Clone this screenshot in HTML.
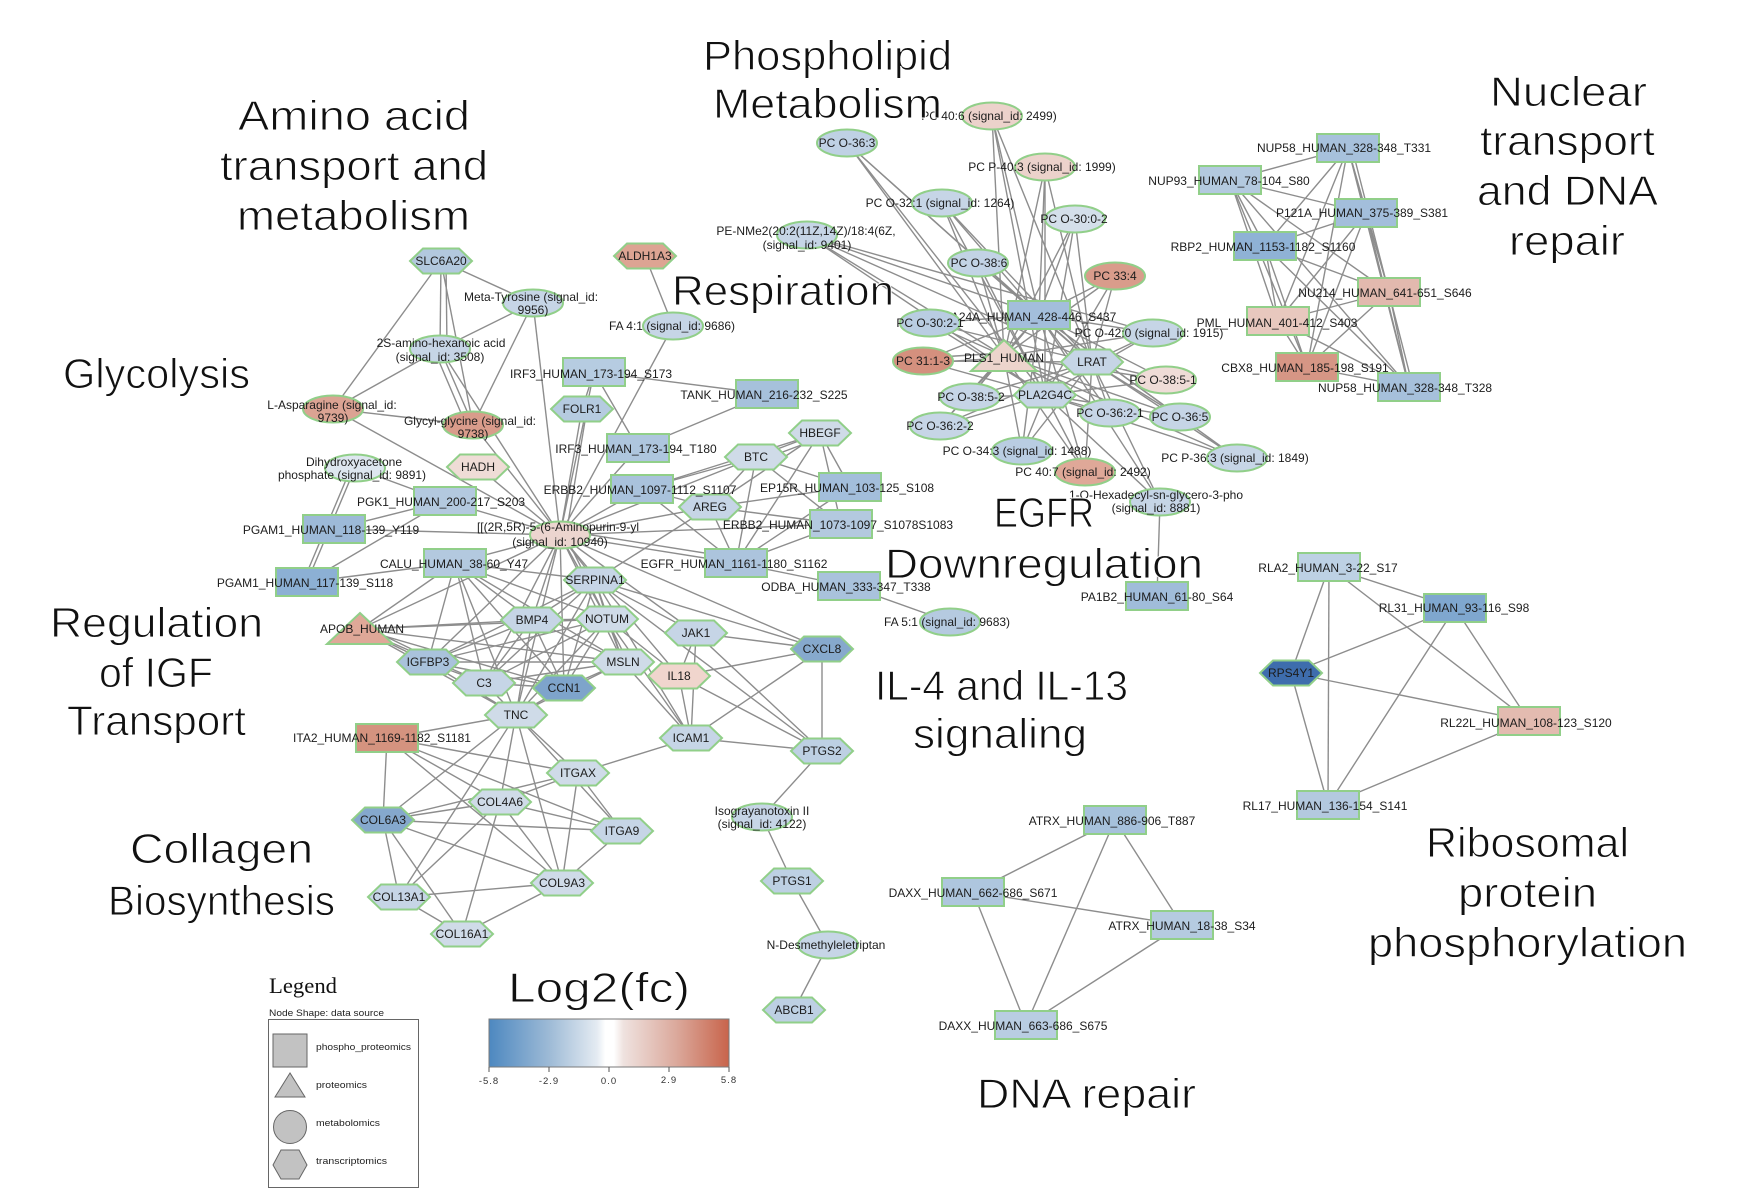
<!DOCTYPE html>
<html><head><meta charset="utf-8"><style>
html,body{margin:0;padding:0;background:#fff;}
svg{display:block;}
</style></head><body>
<svg xmlns="http://www.w3.org/2000/svg" xmlns:xlink="http://www.w3.org/1999/xlink" width="1750" height="1204" viewBox="0 0 1750 1204">
<defs>
<polygon id="hx" points="-31,0 -18,-12.5 18,-12.5 31,0 18,12.5 -18,12.5"/>
<rect id="rc" x="-31" y="-14" width="62" height="28"/>
<ellipse id="el" cx="0" cy="0" rx="30" ry="13.5"/>
<polygon id="tr" points="-33,15 0,-16 33,15"/>
<linearGradient id="cb" x1="0" y1="0" x2="1" y2="0">
<stop offset="0" stop-color="#4d88c0"/><stop offset="0.25" stop-color="#9dbad6"/><stop offset="0.45" stop-color="#e4ebf2"/><stop offset="0.485" stop-color="#ffffff"/><stop offset="0.52" stop-color="#ffffff"/><stop offset="0.56" stop-color="#efe2df"/><stop offset="0.78" stop-color="#dba99c"/><stop offset="1" stop-color="#c8644b"/>
</linearGradient>
</defs>
<rect width="1750" height="1204" fill="#fff"/>

<!-- EDGES -->
<g stroke="#8d8d8d" stroke-width="1.4" fill="none">
<line x1="441" y1="261" x2="533" y2="303"/><line x1="441" y1="261" x2="440" y2="349"/><line x1="446" y1="261" x2="447" y2="349"/><line x1="441" y1="261" x2="333" y2="409"/><line x1="441" y1="261" x2="473" y2="425"/>
<line x1="533" y1="303" x2="440" y2="349"/><line x1="533" y1="303" x2="473" y2="425"/><line x1="533" y1="303" x2="560" y2="535"/>
<line x1="440" y1="349" x2="333" y2="409"/><line x1="440" y1="349" x2="473" y2="425"/><line x1="435" y1="352" x2="467" y2="427"/><line x1="440" y1="349" x2="560" y2="535"/>
<line x1="333" y1="409" x2="473" y2="425"/><line x1="333" y1="409" x2="560" y2="535"/><line x1="473" y1="425" x2="560" y2="535"/>
<line x1="645" y1="256" x2="673" y2="326"/><line x1="673" y1="326" x2="560" y2="535"/>
<line x1="355" y1="468" x2="445" y2="501"/><line x1="355" y1="468" x2="307" y2="582"/><line x1="351" y1="468" x2="303" y2="582"/>
<line x1="445" y1="501" x2="334" y2="529"/><line x1="445" y1="501" x2="307" y2="582"/><line x1="334" y1="529" x2="560" y2="535"/><line x1="445" y1="501" x2="560" y2="535"/><line x1="307" y1="582" x2="455" y2="563"/>
<line x1="478" y1="467" x2="560" y2="535"/>
<line x1="594" y1="372" x2="767" y2="394"/><line x1="594" y1="372" x2="582" y2="409"/><line x1="594" y1="372" x2="638" y2="448"/><line x1="594" y1="372" x2="560" y2="535"/><line x1="767" y1="394" x2="638" y2="448"/>
<line x1="582" y1="409" x2="560" y2="535"/><line x1="587" y1="409" x2="566" y2="535"/><line x1="638" y1="448" x2="560" y2="535"/><line x1="642" y1="489" x2="560" y2="535"/><line x1="756" y1="457" x2="560" y2="535"/><line x1="710" y1="507" x2="560" y2="535"/><line x1="736" y1="563" x2="560" y2="535"/><line x1="736" y1="558" x2="560" y2="530"/><line x1="841" y1="524" x2="560" y2="535"/>
<line x1="756" y1="457" x2="820" y2="433"/><line x1="756" y1="462" x2="820" y2="438"/><line x1="756" y1="457" x2="642" y2="489"/><line x1="756" y1="457" x2="710" y2="507"/><line x1="756" y1="457" x2="736" y2="563"/><line x1="756" y1="457" x2="850" y2="487"/><line x1="756" y1="457" x2="841" y2="524"/>
<line x1="820" y1="433" x2="850" y2="487"/><line x1="820" y1="433" x2="736" y2="563"/><line x1="820" y1="433" x2="841" y2="524"/><line x1="820" y1="433" x2="710" y2="507"/><line x1="820" y1="433" x2="642" y2="489"/>
<line x1="710" y1="507" x2="642" y2="489"/><line x1="710" y1="507" x2="736" y2="563"/><line x1="710" y1="507" x2="850" y2="487"/><line x1="710" y1="507" x2="841" y2="524"/>
<line x1="736" y1="563" x2="642" y2="489"/><line x1="736" y1="563" x2="850" y2="487"/><line x1="736" y1="563" x2="841" y2="524"/><line x1="736" y1="563" x2="849" y2="586"/><line x1="849" y1="586" x2="950" y2="622"/>
<line x1="595" y1="580" x2="560" y2="535"/><line x1="595" y1="580" x2="696" y2="633"/><line x1="595" y1="580" x2="822" y2="649"/><line x1="595" y1="580" x2="623" y2="662"/><line x1="595" y1="580" x2="532" y2="620"/><line x1="595" y1="580" x2="607" y2="619"/><line x1="595" y1="580" x2="564" y2="688"/><line x1="595" y1="580" x2="516" y2="715"/><line x1="595" y1="580" x2="484" y2="683"/><line x1="595" y1="580" x2="428" y2="662"/><line x1="595" y1="580" x2="710" y2="507"/><line x1="595" y1="580" x2="455" y2="563"/><line x1="595" y1="580" x2="691" y2="738"/><line x1="595" y1="580" x2="822" y2="751"/>
<line x1="560" y1="535" x2="532" y2="620"/><line x1="560" y1="535" x2="607" y2="619"/><line x1="560" y1="535" x2="623" y2="662"/><line x1="565" y1="535" x2="628" y2="662"/><line x1="560" y1="535" x2="484" y2="683"/><line x1="560" y1="535" x2="564" y2="688"/><line x1="560" y1="535" x2="516" y2="715"/><line x1="560" y1="535" x2="428" y2="662"/><line x1="560" y1="535" x2="360" y2="629"/><line x1="560" y1="535" x2="455" y2="563"/><line x1="560" y1="535" x2="696" y2="633"/><line x1="560" y1="535" x2="822" y2="649"/><line x1="560" y1="535" x2="679" y2="676"/>
<line x1="455" y1="563" x2="360" y2="629"/><line x1="455" y1="563" x2="428" y2="662"/><line x1="455" y1="563" x2="532" y2="620"/><line x1="455" y1="563" x2="484" y2="683"/><line x1="455" y1="563" x2="516" y2="715"/><line x1="455" y1="563" x2="564" y2="688"/><line x1="455" y1="563" x2="623" y2="662"/><line x1="455" y1="563" x2="607" y2="619"/>
<line x1="360" y1="629" x2="428" y2="662"/><line x1="364" y1="626" x2="432" y2="659"/><line x1="360" y1="629" x2="532" y2="620"/><line x1="360" y1="629" x2="484" y2="683"/><line x1="360" y1="629" x2="516" y2="715"/><line x1="360" y1="629" x2="607" y2="619"/><line x1="360" y1="629" x2="623" y2="662"/><line x1="360" y1="629" x2="564" y2="688"/>
<line x1="428" y1="662" x2="532" y2="620"/><line x1="428" y1="662" x2="484" y2="683"/><line x1="428" y1="662" x2="564" y2="688"/><line x1="428" y1="662" x2="516" y2="715"/><line x1="428" y1="662" x2="623" y2="662"/><line x1="428" y1="662" x2="607" y2="619"/>
<line x1="532" y1="620" x2="607" y2="619"/><line x1="532" y1="620" x2="623" y2="662"/><line x1="532" y1="620" x2="484" y2="683"/><line x1="532" y1="620" x2="564" y2="688"/><line x1="532" y1="620" x2="516" y2="715"/>
<line x1="607" y1="619" x2="623" y2="662"/><line x1="607" y1="619" x2="484" y2="683"/><line x1="607" y1="619" x2="564" y2="688"/><line x1="607" y1="619" x2="516" y2="715"/><line x1="607" y1="619" x2="679" y2="676"/><line x1="607" y1="619" x2="691" y2="738"/>
<line x1="623" y1="662" x2="484" y2="683"/><line x1="623" y1="662" x2="564" y2="688"/><line x1="623" y1="662" x2="516" y2="715"/><line x1="623" y1="662" x2="691" y2="738"/>
<line x1="484" y1="683" x2="564" y2="688"/><line x1="484" y1="683" x2="516" y2="715"/><line x1="564" y1="688" x2="516" y2="715"/>
<line x1="696" y1="633" x2="822" y2="649"/><line x1="696" y1="633" x2="679" y2="676"/><line x1="696" y1="633" x2="691" y2="738"/><line x1="696" y1="633" x2="822" y2="751"/>
<line x1="679" y1="676" x2="822" y2="649"/><line x1="679" y1="676" x2="691" y2="738"/><line x1="679" y1="676" x2="822" y2="751"/>
<line x1="822" y1="649" x2="822" y2="751"/><line x1="822" y1="649" x2="691" y2="738"/><line x1="691" y1="738" x2="822" y2="751"/><line x1="691" y1="738" x2="578" y2="773"/>
<line x1="822" y1="751" x2="762" y2="817"/><line x1="762" y1="817" x2="792" y2="881"/><line x1="792" y1="881" x2="828" y2="945"/><line x1="828" y1="945" x2="794" y2="1010"/>
<line x1="516" y1="715" x2="578" y2="773"/><line x1="516" y1="715" x2="622" y2="831"/><line x1="516" y1="715" x2="500" y2="802"/><line x1="516" y1="715" x2="562" y2="883"/><line x1="516" y1="715" x2="383" y2="820"/><line x1="516" y1="715" x2="387" y2="738"/><line x1="516" y1="715" x2="399" y2="897"/>
<line x1="387" y1="738" x2="383" y2="820"/><line x1="387" y1="738" x2="500" y2="802"/><line x1="387" y1="738" x2="578" y2="773"/><line x1="387" y1="738" x2="622" y2="831"/><line x1="387" y1="738" x2="562" y2="883"/>
<line x1="383" y1="820" x2="500" y2="802"/><line x1="383" y1="820" x2="622" y2="831"/><line x1="383" y1="820" x2="562" y2="883"/><line x1="383" y1="820" x2="399" y2="897"/><line x1="383" y1="820" x2="462" y2="934"/><line x1="383" y1="820" x2="578" y2="773"/>
<line x1="500" y1="802" x2="622" y2="831"/><line x1="500" y1="802" x2="562" y2="883"/><line x1="500" y1="802" x2="399" y2="897"/><line x1="500" y1="802" x2="462" y2="934"/><line x1="500" y1="802" x2="578" y2="773"/>
<line x1="578" y1="773" x2="622" y2="831"/><line x1="578" y1="773" x2="562" y2="883"/><line x1="622" y1="831" x2="562" y2="883"/><line x1="562" y1="883" x2="399" y2="897"/><line x1="562" y1="883" x2="462" y2="934"/><line x1="399" y1="897" x2="462" y2="934"/>

<!-- phospholipid -->
<line x1="847" y1="143" x2="1039" y2="315"/><line x1="847" y1="143" x2="1004" y2="356"/><line x1="847" y1="143" x2="1092" y2="362"/><line x1="847" y1="143" x2="1045" y2="395"/>
<line x1="992" y1="116" x2="1039" y2="315"/><line x1="992" y1="116" x2="1004" y2="356"/><line x1="992" y1="116" x2="1092" y2="362"/><line x1="992" y1="116" x2="1045" y2="395"/>
<line x1="1045" y1="167" x2="1039" y2="315"/><line x1="1045" y1="167" x2="1004" y2="356"/><line x1="1045" y1="167" x2="1092" y2="362"/><line x1="1045" y1="167" x2="1045" y2="395"/>
<line x1="942" y1="203" x2="1039" y2="315"/><line x1="942" y1="203" x2="1004" y2="356"/><line x1="942" y1="203" x2="1092" y2="362"/><line x1="942" y1="203" x2="1045" y2="395"/>
<line x1="807" y1="235" x2="1039" y2="315"/><line x1="807" y1="235" x2="1004" y2="356"/><line x1="807" y1="235" x2="1092" y2="362"/><line x1="807" y1="235" x2="1045" y2="395"/><line x1="807" y1="235" x2="1153" y2="333"/>
<line x1="1075" y1="219" x2="1039" y2="315"/><line x1="1075" y1="219" x2="1004" y2="356"/><line x1="1075" y1="219" x2="1092" y2="362"/><line x1="1075" y1="219" x2="1045" y2="395"/>
<line x1="978" y1="263" x2="1039" y2="315"/><line x1="978" y1="263" x2="1004" y2="356"/><line x1="978" y1="263" x2="1092" y2="362"/><line x1="978" y1="263" x2="1045" y2="395"/>
<line x1="1115" y1="276" x2="1039" y2="315"/><line x1="1115" y1="276" x2="1004" y2="356"/><line x1="1115" y1="276" x2="1092" y2="362"/><line x1="1115" y1="276" x2="1045" y2="395"/>
<line x1="930" y1="323" x2="1039" y2="315"/><line x1="930" y1="323" x2="1004" y2="356"/><line x1="930" y1="323" x2="1092" y2="362"/><line x1="930" y1="323" x2="1045" y2="395"/>
<line x1="1153" y1="333" x2="1039" y2="315"/><line x1="1153" y1="333" x2="1004" y2="356"/><line x1="1153" y1="333" x2="1092" y2="362"/><line x1="1153" y1="333" x2="1045" y2="395"/>
<line x1="923" y1="361" x2="1039" y2="315"/><line x1="923" y1="358" x2="1004" y2="353"/><line x1="923" y1="363" x2="1004" y2="358"/><line x1="923" y1="361" x2="1092" y2="362"/><line x1="923" y1="361" x2="1045" y2="395"/>
<line x1="1166" y1="380" x2="1039" y2="315"/><line x1="1166" y1="380" x2="1004" y2="356"/><line x1="1166" y1="380" x2="1092" y2="362"/><line x1="1166" y1="380" x2="1045" y2="395"/>
<line x1="970" y1="397" x2="1039" y2="315"/><line x1="970" y1="397" x2="1004" y2="356"/><line x1="970" y1="397" x2="1092" y2="362"/><line x1="970" y1="397" x2="1045" y2="395"/>
<line x1="940" y1="426" x2="1039" y2="315"/><line x1="940" y1="426" x2="1004" y2="356"/><line x1="940" y1="426" x2="1092" y2="362"/><line x1="940" y1="426" x2="1045" y2="395"/>
<line x1="1110" y1="413" x2="1039" y2="315"/><line x1="1110" y1="413" x2="1004" y2="356"/><line x1="1110" y1="413" x2="1092" y2="362"/><line x1="1110" y1="413" x2="1045" y2="395"/>
<line x1="1180" y1="417" x2="1039" y2="315"/><line x1="1180" y1="417" x2="1004" y2="356"/><line x1="1180" y1="417" x2="1092" y2="362"/><line x1="1180" y1="417" x2="1045" y2="395"/>
<line x1="1022" y1="451" x2="1039" y2="315"/><line x1="1022" y1="451" x2="1004" y2="356"/><line x1="1022" y1="451" x2="1092" y2="362"/><line x1="1022" y1="451" x2="1045" y2="395"/>
<line x1="1085" y1="472" x2="1039" y2="315"/><line x1="1085" y1="472" x2="1004" y2="356"/><line x1="1085" y1="472" x2="1092" y2="362"/><line x1="1085" y1="472" x2="1045" y2="395"/>
<line x1="1237" y1="458" x2="1039" y2="315"/><line x1="1237" y1="458" x2="1004" y2="356"/><line x1="1237" y1="458" x2="1092" y2="362"/><line x1="1237" y1="458" x2="1045" y2="395"/>
<line x1="1160" y1="502" x2="1039" y2="315"/><line x1="1160" y1="502" x2="1092" y2="362"/><line x1="1160" y1="502" x2="1045" y2="395"/><line x1="1160" y1="502" x2="1157" y2="596"/>

<!-- nuclear K8 -->
<line x1="1348" y1="148" x2="1230" y2="180"/><line x1="1348" y1="148" x2="1366" y2="213"/><line x1="1348" y1="148" x2="1265" y2="246"/><line x1="1348" y1="148" x2="1389" y2="292"/><line x1="1348" y1="148" x2="1278" y2="321"/><line x1="1348" y1="148" x2="1307" y2="367"/><line x1="1348" y1="148" x2="1409" y2="387"/><line x1="1352" y1="148" x2="1413" y2="387"/>
<line x1="1230" y1="180" x2="1366" y2="213"/><line x1="1230" y1="180" x2="1265" y2="246"/><line x1="1230" y1="180" x2="1389" y2="292"/><line x1="1230" y1="180" x2="1278" y2="321"/><line x1="1230" y1="180" x2="1307" y2="367"/><line x1="1230" y1="180" x2="1409" y2="387"/>
<line x1="1366" y1="213" x2="1265" y2="246"/><line x1="1366" y1="213" x2="1389" y2="292"/><line x1="1366" y1="213" x2="1278" y2="321"/><line x1="1366" y1="213" x2="1307" y2="367"/><line x1="1366" y1="213" x2="1409" y2="387"/>
<line x1="1265" y1="246" x2="1389" y2="292"/><line x1="1265" y1="246" x2="1278" y2="321"/><line x1="1265" y1="246" x2="1307" y2="367"/><line x1="1265" y1="246" x2="1409" y2="387"/>
<line x1="1389" y1="292" x2="1278" y2="321"/><line x1="1389" y1="292" x2="1307" y2="367"/><line x1="1389" y1="292" x2="1409" y2="387"/>
<line x1="1278" y1="321" x2="1307" y2="367"/><line x1="1278" y1="321" x2="1409" y2="387"/><line x1="1307" y1="367" x2="1409" y2="387"/>

<!-- ribosomal -->
<line x1="1329" y1="567" x2="1455" y2="608"/><line x1="1329" y1="567" x2="1529" y2="721"/><line x1="1329" y1="567" x2="1328" y2="805"/><line x1="1329" y1="567" x2="1291" y2="673"/>
<line x1="1455" y1="608" x2="1291" y2="673"/><line x1="1455" y1="608" x2="1529" y2="721"/><line x1="1455" y1="608" x2="1328" y2="805"/>
<line x1="1291" y1="673" x2="1529" y2="721"/><line x1="1291" y1="673" x2="1328" y2="805"/><line x1="1529" y1="721" x2="1328" y2="805"/>

<!-- DNA -->
<line x1="1115" y1="820" x2="973" y2="892"/><line x1="1115" y1="820" x2="1182" y2="925"/><line x1="1115" y1="820" x2="1026" y2="1025"/><line x1="973" y1="892" x2="1182" y2="925"/><line x1="973" y1="892" x2="1026" y2="1025"/><line x1="1182" y1="925" x2="1026" y2="1025"/>
</g>

<!-- NODES -->
<g stroke="#91cf89" stroke-width="2">
<use href="#hx" xlink:href="#hx" x="441" y="261" fill="#b2c8de"/>
<use href="#el" xlink:href="#el" x="533" y="303" fill="#c6d5e6"/>
<use href="#el" xlink:href="#el" x="440" y="349" fill="#c6d5e6"/>
<use href="#hx" xlink:href="#hx" x="645" y="256" fill="#dda493"/>
<use href="#el" xlink:href="#el" x="673" y="326" fill="#c6d5e6"/>
<use href="#el" xlink:href="#el" x="333" y="409" fill="#dba393"/>
<use href="#el" xlink:href="#el" x="473" y="425" fill="#d99c8b"/>
<use href="#el" xlink:href="#el" x="355" y="468" fill="#dde6ef"/>
<use href="#hx" xlink:href="#hx" x="478" y="467" fill="#efdcd6"/>
<use href="#rc" xlink:href="#rc" x="594" y="372" fill="#b6cce1"/>
<use href="#rc" xlink:href="#rc" x="767" y="394" fill="#a6c1db"/>
<use href="#hx" xlink:href="#hx" x="582" y="409" fill="#b5cbe0"/>
<use href="#rc" xlink:href="#rc" x="638" y="448" fill="#aec6de"/>
<use href="#hx" xlink:href="#hx" x="820" y="433" fill="#cfdbe8"/>
<use href="#hx" xlink:href="#hx" x="756" y="457" fill="#cfdbe8"/>
<use href="#rc" xlink:href="#rc" x="642" y="489" fill="#a9c2dc"/>
<use href="#rc" xlink:href="#rc" x="850" y="487" fill="#a3bedb"/>
<use href="#hx" xlink:href="#hx" x="710" y="507" fill="#c6d5e6"/>
<use href="#rc" xlink:href="#rc" x="445" y="501" fill="#b3c9df"/>
<use href="#rc" xlink:href="#rc" x="334" y="529" fill="#9dbad8"/>
<use href="#el" xlink:href="#el" x="560" y="535" fill="#ecd5cf"/>
<use href="#rc" xlink:href="#rc" x="841" y="524" fill="#b3c9df"/>
<use href="#rc" xlink:href="#rc" x="455" y="563" fill="#b3c9df"/>
<use href="#rc" xlink:href="#rc" x="736" y="563" fill="#acc4dd"/>
<use href="#rc" xlink:href="#rc" x="307" y="582" fill="#8cb0d4"/>
<use href="#rc" xlink:href="#rc" x="849" y="586" fill="#a9c2dc"/>
<use href="#hx" xlink:href="#hx" x="595" y="580" fill="#c6d5e6"/>
<use href="#el" xlink:href="#el" x="950" y="622" fill="#b5cae0"/>
<use href="#tr" xlink:href="#tr" x="360" y="629" fill="#dfa898"/>
<use href="#hx" xlink:href="#hx" x="532" y="620" fill="#c6d5e6"/>
<use href="#hx" xlink:href="#hx" x="607" y="619" fill="#cfdbe8"/>
<use href="#hx" xlink:href="#hx" x="696" y="633" fill="#c6d5e6"/>
<use href="#hx" xlink:href="#hx" x="822" y="649" fill="#86a9cd"/>
<use href="#hx" xlink:href="#hx" x="428" y="662" fill="#a9c2dc"/>
<use href="#hx" xlink:href="#hx" x="623" y="662" fill="#cfdbe8"/>
<use href="#hx" xlink:href="#hx" x="679" y="676" fill="#f0d5cd"/>
<use href="#hx" xlink:href="#hx" x="484" y="683" fill="#c6d5e6"/>
<use href="#hx" xlink:href="#hx" x="564" y="688" fill="#7ea4cb"/>
<use href="#hx" xlink:href="#hx" x="516" y="715" fill="#cfdbe8"/>
<use href="#rc" xlink:href="#rc" x="387" y="738" fill="#d4937f"/>
<use href="#hx" xlink:href="#hx" x="691" y="738" fill="#c6d5e6"/>
<use href="#hx" xlink:href="#hx" x="822" y="751" fill="#bdd0e3"/>
<use href="#hx" xlink:href="#hx" x="578" y="773" fill="#cfdbe8"/>
<use href="#hx" xlink:href="#hx" x="500" y="802" fill="#cfdbe8"/>
<use href="#hx" xlink:href="#hx" x="383" y="820" fill="#85a8cd"/>
<use href="#hx" xlink:href="#hx" x="622" y="831" fill="#c6d5e6"/>
<use href="#hx" xlink:href="#hx" x="562" y="883" fill="#cfdbe8"/>
<use href="#hx" xlink:href="#hx" x="399" y="897" fill="#c6d5e6"/>
<use href="#hx" xlink:href="#hx" x="462" y="934" fill="#cfdbe8"/>
<use href="#el" xlink:href="#el" x="762" y="817" fill="#c6d5e6"/>
<use href="#hx" xlink:href="#hx" x="792" y="881" fill="#bdd0e3"/>
<use href="#el" xlink:href="#el" x="828" y="945" fill="#c6d5e6"/>
<use href="#hx" xlink:href="#hx" x="794" y="1010" fill="#bdd0e3"/>

<use href="#el" xlink:href="#el" x="847" y="143" fill="#bfd1e4"/>
<use href="#el" xlink:href="#el" x="992" y="116" fill="#ecd2cb"/>
<use href="#el" xlink:href="#el" x="1045" y="167" fill="#ecd2cb"/>
<use href="#el" xlink:href="#el" x="942" y="203" fill="#c6d5e6"/>
<use href="#el" xlink:href="#el" x="807" y="235" fill="#c6d5e6"/>
<use href="#el" xlink:href="#el" x="1075" y="219" fill="#d4dfea"/>
<use href="#el" xlink:href="#el" x="978" y="263" fill="#c2d3e5"/>
<use href="#el" xlink:href="#el" x="1115" y="276" fill="#d99c8b"/>
<use href="#rc" xlink:href="#rc" x="1039" y="315" fill="#a3bedb"/>
<use href="#el" xlink:href="#el" x="1153" y="333" fill="#c6d5e6"/>
<use href="#tr" xlink:href="#tr" x="1004" y="356" fill="#ecd4cc"/>
<use href="#hx" xlink:href="#hx" x="1092" y="362" fill="#c6d5e6"/>
<use href="#el" xlink:href="#el" x="1166" y="380" fill="#efdcd7"/>
<use href="#el" xlink:href="#el" x="970" y="397" fill="#c6d5e6"/>
<use href="#hx" xlink:href="#hx" x="1045" y="395" fill="#c6d5e6"/>
<use href="#el" xlink:href="#el" x="940" y="426" fill="#c6d5e6"/>
<use href="#el" xlink:href="#el" x="1110" y="413" fill="#c6d5e6"/>
<use href="#el" xlink:href="#el" x="1180" y="417" fill="#c6d5e6"/>
<use href="#el" xlink:href="#el" x="1022" y="451" fill="#b9cde2"/>
<use href="#el" xlink:href="#el" x="1085" y="472" fill="#dfa898"/>
<use href="#el" xlink:href="#el" x="1237" y="458" fill="#c6d5e6"/>
<use href="#el" xlink:href="#el" x="1160" y="502" fill="#c6d5e6"/>
<use href="#rc" xlink:href="#rc" x="1157" y="596" fill="#a0bcda"/>

<use href="#rc" xlink:href="#rc" x="1348" y="148" fill="#a7c1dc"/>
<use href="#rc" xlink:href="#rc" x="1230" y="180" fill="#b3c9df"/>
<use href="#rc" xlink:href="#rc" x="1366" y="213" fill="#a3bedb"/>
<use href="#rc" xlink:href="#rc" x="1265" y="246" fill="#8fb2d5"/>
<use href="#rc" xlink:href="#rc" x="1389" y="292" fill="#e2b9ae"/>
<use href="#rc" xlink:href="#rc" x="1278" y="321" fill="#e8c8be"/>
<use href="#rc" xlink:href="#rc" x="1307" y="367" fill="#d69685"/>
<use href="#rc" xlink:href="#rc" x="1409" y="387" fill="#a6c0db"/>

<use href="#rc" xlink:href="#rc" x="1329" y="567" fill="#bdd1e4"/>
<use href="#rc" xlink:href="#rc" x="1455" y="608" fill="#7fa7cf"/>
<use href="#hx" xlink:href="#hx" x="1291" y="673" fill="#3e6dad"/>
<use href="#rc" xlink:href="#rc" x="1529" y="721" fill="#e3bbb0"/>
<use href="#rc" xlink:href="#rc" x="1328" y="805" fill="#b3c9df"/>

<use href="#rc" xlink:href="#rc" x="1115" y="820" fill="#a6c1db"/>
<use href="#rc" xlink:href="#rc" x="973" y="892" fill="#aec6de"/>
<use href="#rc" xlink:href="#rc" x="1182" y="925" fill="#b5cbe0"/>
<use href="#rc" xlink:href="#rc" x="1026" y="1025" fill="#b9cde2"/>
</g>

<g font-family="Liberation Sans, Arial, sans-serif" font-size="12" fill="#1c1c1c" text-anchor="middle">
<text x="441" y="265">SLC6A20</text>
<text x="531" y="301">Meta-Tyrosine (signal_id:</text><text x="533" y="314">9956)</text>
<text x="441" y="347">2S-amino-hexanoic acid</text><text x="440" y="361">(signal_id: 3508)</text>
<text x="645" y="260">ALDH1A3</text>
<text x="672" y="330">FA 4:1 (signal_id: 9686)</text>
<text x="332" y="409">L-Asparagine (signal_id:</text><text x="333" y="422">9739)</text>
<text x="470" y="425">Glycyl-glycine (signal_id:</text><text x="473" y="438">9738)</text>
<text x="354" y="466">Dihydroxyacetone</text><text x="352" y="479">phosphate (signal_id: 9891)</text>
<text x="478" y="471">HADH</text>
<text x="591" y="378">IRF3_HUMAN_173-194_S173</text>
<text x="764" y="399">TANK_HUMAN_216-232_S225</text>
<text x="582" y="413">FOLR1</text>
<text x="636" y="453">IRF3_HUMAN_173-194_T180</text>
<text x="820" y="437">HBEGF</text>
<text x="756" y="461">BTC</text>
<text x="640" y="494">ERBB2_HUMAN_1097-1112_S1107</text>
<text x="847" y="492">EP15R_HUMAN_103-125_S108</text>
<text x="710" y="511">AREG</text>
<text x="441" y="506">PGK1_HUMAN_200-217_S203</text>
<text x="331" y="534">PGAM1_HUMAN_118-139_Y119</text>
<text x="558" y="531">[[(2R,5R)-5-(6-Aminopurin-9-yl</text><text x="560" y="546">(signal_id: 10940)</text>
<text x="838" y="529">ERBB2_HUMAN_1073-1097_S1078S1083</text>
<text x="454" y="568">CALU_HUMAN_38-60_Y47</text>
<text x="734" y="568">EGFR_HUMAN_1161-1180_S1162</text>
<text x="305" y="587">PGAM1_HUMAN_117-139_S118</text>
<text x="846" y="591">ODBA_HUMAN_333-347_T338</text>
<text x="595" y="584">SERPINA1</text>
<text x="947" y="626">FA 5:1 (signal_id: 9683)</text>
<text x="362" y="633">APOB_HUMAN</text>
<text x="532" y="624">BMP4</text>
<text x="607" y="623">NOTUM</text>
<text x="696" y="637">JAK1</text>
<text x="822" y="653">CXCL8</text>
<text x="428" y="666">IGFBP3</text>
<text x="623" y="666">MSLN</text>
<text x="679" y="680">IL18</text>
<text x="484" y="687">C3</text>
<text x="564" y="692">CCN1</text>
<text x="516" y="719">TNC</text>
<text x="382" y="742">ITA2_HUMAN_1169-1182_S1181</text>
<text x="691" y="742">ICAM1</text>
<text x="822" y="755">PTGS2</text>
<text x="578" y="777">ITGAX</text>
<text x="500" y="806">COL4A6</text>
<text x="383" y="824">COL6A3</text>
<text x="622" y="835">ITGA9</text>
<text x="562" y="887">COL9A3</text>
<text x="399" y="901">COL13A1</text>
<text x="462" y="938">COL16A1</text>
<text x="762" y="815">Isograyanotoxin II</text><text x="762" y="828">(signal_id: 4122)</text>
<text x="792" y="885">PTGS1</text>
<text x="826" y="949">N-Desmethyleletriptan</text>
<text x="794" y="1014">ABCB1</text>

<text x="847" y="147">PC O-36:3</text>
<text x="989" y="120">PC 40:6 (signal_id: 2499)</text>
<text x="1042" y="171">PC P-40:3 (signal_id: 1999)</text>
<text x="940" y="207">PC O-32:1 (signal_id: 1264)</text>
<text x="806" y="235">PE-NMe2(20:2(11Z,14Z)/18:4(6Z,</text><text x="807" y="249">(signal_id: 9401)</text>
<text x="1074" y="223">PC O-30:0-2</text>
<text x="979" y="267">PC O-38:6</text>
<text x="1115" y="280">PC 33:4</text>
<text x="1030" y="321">PA24A_HUMAN_428-446_S437</text>
<text x="1149" y="337">PC O-42:0 (signal_id: 1915)</text>
<text x="1004" y="362">PLS1_HUMAN</text>
<text x="1092" y="366">LRAT</text>
<text x="1163" y="384">PC O-38:5-1</text>
<text x="971" y="401">PC O-38:5-2</text>
<text x="1045" y="399">PLA2G4C</text>
<text x="940" y="430">PC O-36:2-2</text>
<text x="1110" y="417">PC O-36:2-1</text>
<text x="1180" y="421">PC O-36:5</text>
<text x="1017" y="455">PC O-34:3 (signal_id: 1488)</text>
<text x="1083" y="476">PC 40:7 (signal_id: 2492)</text>
<text x="1235" y="462">PC P-36:3 (signal_id: 1849)</text>
<text x="1156" y="499">1-O-Hexadecyl-sn-glycero-3-pho</text><text x="1156" y="512">(signal_id: 8881)</text>
<text x="1157" y="601">PA1B2_HUMAN_61-80_S64</text>

<text x="1344" y="152">NUP58_HUMAN_328-348_T331</text>
<text x="1229" y="185">NUP93_HUMAN_78-104_S80</text>
<text x="1362" y="217">P121A_HUMAN_375-389_S381</text>
<text x="1263" y="251">RBP2_HUMAN_1153-1182_S1160</text>
<text x="1385" y="297">NU214_HUMAN_641-651_S646</text>
<text x="1277" y="327">PML_HUMAN_401-412_S403</text>
<text x="1305" y="372">CBX8_HUMAN_185-198_S191</text>
<text x="1405" y="392">NUP58_HUMAN_328-348_T328</text>

<text x="1328" y="572">RLA2_HUMAN_3-22_S17</text>
<text x="1454" y="612">RL31_HUMAN_93-116_S98</text>
<text x="1291" y="677">RPS4Y1</text>
<text x="1526" y="727">RL22L_HUMAN_108-123_S120</text>
<text x="1325" y="810">RL17_HUMAN_136-154_S141</text>

<text x="1112" y="825">ATRX_HUMAN_886-906_T887</text>
<text x="973" y="897">DAXX_HUMAN_662-686_S671</text>
<text x="1182" y="930">ATRX_HUMAN_18-38_S34</text>
<text x="1023" y="1030">DAXX_HUMAN_663-686_S675</text>
</g>

<!-- late nodes (drawn over PA24A label) -->
<g stroke="#91cf89" stroke-width="2">
<use href="#el" xlink:href="#el" x="930" y="323" fill="#b9cde2"/>
<use href="#el" xlink:href="#el" x="923" y="361" fill="#d4907e"/>
</g>
<g font-family="Liberation Sans, Arial, sans-serif" font-size="12" fill="#1c1c1c" text-anchor="middle">
<text x="930" y="327">PC O-30:2-1</text>
<text x="923" y="365">PC 31:1-3</text>
</g>

<!-- TITLES -->
<g font-family="Liberation Sans, Arial, sans-serif" font-size="42" fill="#111" stroke="#ffffff" stroke-width="0.9">
<text x="238" y="130" textLength="232" lengthAdjust="spacingAndGlyphs">Amino acid</text>
<text x="220" y="180" textLength="268" lengthAdjust="spacingAndGlyphs">transport and</text>
<text x="237" y="230" textLength="233" lengthAdjust="spacingAndGlyphs">metabolism</text>
<text x="703" y="70" textLength="249" lengthAdjust="spacingAndGlyphs">Phospholipid</text>
<text x="713" y="118" textLength="229" lengthAdjust="spacingAndGlyphs">Metabolism</text>
<text x="672" y="305" textLength="222" lengthAdjust="spacingAndGlyphs">Respiration</text>
<text x="63" y="388" textLength="187" lengthAdjust="spacingAndGlyphs">Glycolysis</text>
<text x="1490" y="106" textLength="157" lengthAdjust="spacingAndGlyphs">Nuclear</text>
<text x="1480" y="155" textLength="175" lengthAdjust="spacingAndGlyphs">transport</text>
<text x="1477" y="205" textLength="181" lengthAdjust="spacingAndGlyphs">and DNA</text>
<text x="1509" y="255" textLength="116" lengthAdjust="spacingAndGlyphs">repair</text>
<text x="50" y="637" textLength="213" lengthAdjust="spacingAndGlyphs">Regulation</text>
<text x="99" y="687" textLength="114" lengthAdjust="spacingAndGlyphs">of IGF</text>
<text x="67" y="735" textLength="179" lengthAdjust="spacingAndGlyphs">Transport</text>
<text x="994" y="527" textLength="100" lengthAdjust="spacingAndGlyphs">EGFR</text>
<text x="885" y="578" textLength="318" lengthAdjust="spacingAndGlyphs">Downregulation</text>
<text x="875" y="700" textLength="253" lengthAdjust="spacingAndGlyphs">IL-4 and IL-13</text>
<text x="913" y="748" textLength="174" lengthAdjust="spacingAndGlyphs">signaling</text>
<text x="130" y="863" textLength="183" lengthAdjust="spacingAndGlyphs">Collagen</text>
<text x="108" y="915" textLength="227" lengthAdjust="spacingAndGlyphs">Biosynthesis</text>
<text x="508" y="1002" textLength="182" lengthAdjust="spacingAndGlyphs">Log2(fc)</text>
<text x="1426" y="857" textLength="203" lengthAdjust="spacingAndGlyphs">Ribosomal</text>
<text x="1458" y="907" textLength="139" lengthAdjust="spacingAndGlyphs">protein</text>
<text x="1368" y="957" textLength="319" lengthAdjust="spacingAndGlyphs">phosphorylation</text>
<text x="977" y="1108" textLength="219" lengthAdjust="spacingAndGlyphs">DNA repair</text>
</g>

<!-- LEGEND -->
<text x="269" y="993" font-family="Liberation Serif, Times New Roman, serif" font-size="22" fill="#111" textLength="68" lengthAdjust="spacingAndGlyphs">Legend</text>
<text x="269" y="1016" font-family="Liberation Sans, Arial, sans-serif" font-size="9.5" fill="#222" textLength="115" lengthAdjust="spacingAndGlyphs">Node Shape:  data source</text>
<rect x="268.5" y="1019.5" width="150" height="168" fill="none" stroke="#666" stroke-width="1"/>
<g fill="#c2c2c2" stroke="#666" stroke-width="1">
<rect x="273" y="1034" width="34" height="33"/>
<polygon points="290,1073 275,1097 305,1097"/>
<circle cx="290" cy="1127" r="16.5"/>
<polygon points="273,1165 281,1150 299,1150 307,1165 299,1179 281,1179"/>
</g>
<g font-family="Liberation Sans, Arial, sans-serif" font-size="9.5" fill="#222">
<text x="316" y="1050" textLength="95" lengthAdjust="spacingAndGlyphs">phospho_proteomics</text>
<text x="316" y="1088" textLength="51" lengthAdjust="spacingAndGlyphs">proteomics</text>
<text x="316" y="1126" textLength="64" lengthAdjust="spacingAndGlyphs">metabolomics</text>
<text x="316" y="1164" textLength="71" lengthAdjust="spacingAndGlyphs">transcriptomics</text>
</g>

<!-- COLOR BAR -->
<rect x="489" y="1019" width="240" height="48" fill="url(#cb)" stroke="#7a7a7a" stroke-width="1"/>
<g stroke="#555" stroke-width="1">
<line x1="489" y1="1067" x2="489" y2="1072"/><line x1="549" y1="1067" x2="549" y2="1072"/><line x1="609" y1="1067" x2="609" y2="1072"/><line x1="669" y1="1067" x2="669" y2="1072"/><line x1="729" y1="1067" x2="729" y2="1072"/>
</g>
<g font-family="Liberation Sans, Arial, sans-serif" font-size="9.5" fill="#333" text-anchor="middle" letter-spacing="1">
<text x="489" y="1084">-5.8</text><text x="549" y="1084">-2.9</text><text x="609" y="1084">0.0</text><text x="669" y="1083">2.9</text><text x="729" y="1083">5.8</text>
</g>
</svg>
</body></html>
